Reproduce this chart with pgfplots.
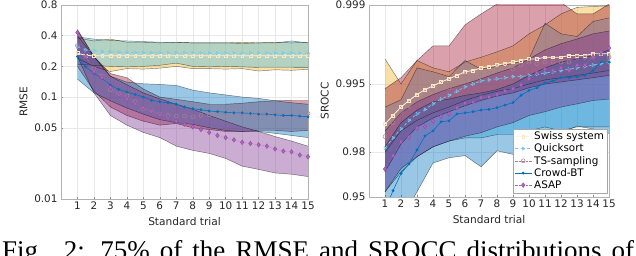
\documentclass[border=0pt]{standalone}
\usepackage{pgfplots}
\pgfplotsset{compat=1.18}
\usepgfplotslibrary{fillbetween}
\usepackage{pgfplotstable}
\usepackage{fontspec}
\setmainfont{DejaVu Sans}
\newfontfamily\capfont{Liberation Serif}

\definecolor{cswiss}{HTML}{EDB120}
\definecolor{cquick}{HTML}{4DBEEE}
\definecolor{cts}{HTML}{A2142F}
\definecolor{ccb}{HTML}{0072BD}
\definecolor{casap}{HTML}{7E2F8E}
\definecolor{tsmark}{RGB}{170,125,150}
\definecolor{asapmark}{RGB}{178,98,198}

% RMSE: mean curves
\pgfplotstableread{
x sw q ts cb as
1 0.27 0.31 0.32 0.25 0.43
1.5 0.256 0.29 0.25 0.198 0.25
2 0.254 0.285 0.19 0.171 0.178
2.5 0.254 0.28 0.16 0.152 0.156
3 0.254 0.278 0.118 0.131 0.124
3.5 0.254 0.275 0.107 0.119 0.105
4 0.254 0.274 0.103 0.112 0.095
4.5 0.254 0.273 0.090 0.106 0.086
5 0.254 0.272 0.077 0.100 0.079
5.5 0.254 0.272 0.073 0.093 0.072
6 0.254 0.272 0.068 0.090 0.067
6.5 0.254 0.271 0.066 0.088 0.062
7 0.254 0.271 0.065 0.085 0.058
7.5 0.254 0.271 0.065 0.080 0.054
8 0.254 0.271 0.064 0.077 0.051
8.5 0.254 0.270 0.066 0.075 0.048
9 0.254 0.270 0.067 0.073 0.045
9.5 0.254 0.270 0.067 0.072 0.042
10 0.254 0.270 0.067 0.071 0.040
10.5 0.254 0.270 0.068 0.070 0.038
11 0.254 0.270 0.068 0.070 0.036
11.5 0.254 0.270 0.068 0.069 0.035
12 0.254 0.270 0.068 0.068 0.034
12.5 0.254 0.269 0.068 0.068 0.033
13 0.254 0.269 0.068 0.067 0.031
13.5 0.254 0.269 0.069 0.066 0.0295
14 0.254 0.269 0.069 0.066 0.029
14.5 0.254 0.269 0.069 0.065 0.027
15 0.254 0.269 0.069 0.064 0.026
}\rmsemean

% RMSE: 75% bands
\pgfplotstableread{
x swlo swhi qlo qhi tslo tshi cblo cbhi aslo ashi
1 0.24 0.38 0.21 0.39 0.20 0.45 0.15 0.40 0.25 0.46
2 0.20 0.355 0.205 0.37 0.115 0.25 0.11 0.25 0.11 0.25
3 0.178 0.37 0.20 0.36 0.08 0.17 0.092 0.16 0.066 0.16
4 0.19 0.345 0.198 0.355 0.066 0.155 0.078 0.14 0.053 0.132
5 0.188 0.345 0.20 0.35 0.058 0.12 0.068 0.135 0.045 0.11
6 0.192 0.34 0.205 0.345 0.053 0.10 0.060 0.133 0.040 0.096
7 0.20 0.345 0.215 0.345 0.055 0.095 0.056 0.13 0.033 0.085
8 0.19 0.34 0.20 0.34 0.050 0.09 0.054 0.117 0.030 0.076
9 0.19 0.34 0.198 0.34 0.048 0.085 0.050 0.11 0.028 0.066
10 0.188 0.34 0.20 0.34 0.046 0.085 0.047 0.105 0.025 0.058
11 0.19 0.345 0.198 0.335 0.046 0.087 0.046 0.10 0.021 0.051
12 0.18 0.34 0.195 0.34 0.047 0.09 0.046 0.097 0.0195 0.046
13 0.185 0.345 0.195 0.34 0.047 0.092 0.044 0.092 0.018 0.041
14 0.183 0.34 0.195 0.355 0.046 0.093 0.042 0.088 0.0175 0.037
15 0.187 0.345 0.194 0.34 0.047 0.093 0.040 0.085 0.0166 0.033
}\rmseband

% SROCC: mean curves
\pgfplotstableread{
x sw q ts cb as
1 0.9887 0.9815 0.9854 0.935 0.9717
1.5 0.9905 0.985 0.989 0.956 0.9785
2 0.992 0.9875 0.9913 0.969 0.9838
2.5 0.993 0.9895 0.9922 0.9745 0.9852
3 0.9938 0.9908 0.9932 0.9808 0.9877
3.5 0.9944 0.9916 0.9938 0.9856 0.9881
4 0.9948 0.9925 0.9943 0.9870 0.9894
4.5 0.9952 0.9932 0.9946 0.9892 0.9903
5 0.9955 0.9937 0.9946 0.9894 0.9908
5.5 0.9958 0.9942 0.9953 0.9908 0.9919
6 0.9961 0.9947 0.9958 0.9910 0.9926
6.5 0.9962 0.995 0.9956 0.9912 0.9928
7 0.9964 0.9953 0.9959 0.9915 0.9934
7.5 0.9965 0.9954 0.996 0.9916 0.9935
8 0.9966 0.9955 0.9964 0.9919 0.9938
8.5 0.9967 0.9956 0.9965 0.9923 0.9942
9 0.9968 0.9957 0.9963 0.9927 0.9945
9.5 0.9969 0.9957 0.9966 0.9937 0.9949
10 0.997 0.9958 0.9968 0.9943 0.9955
10.5 0.997 0.9959 0.9967 0.9946 0.9960
11 0.9971 0.996 0.9968 0.9951 0.9963
11.5 0.9971 0.9961 0.9968 0.9953 0.9962
12 0.9971 0.9962 0.9968 0.9956 0.9964
12.5 0.9972 0.9963 0.9968 0.9956 0.9962
13 0.9972 0.9964 0.9971 0.9957 0.9966
13.5 0.9972 0.9965 0.9971 0.9958 0.9966
14 0.9973 0.9966 0.9971 0.9962 0.9971
14.5 0.9973 0.9967 0.9973 0.9968 0.9974
15 0.9973 0.9968 0.9971 0.9968 0.9976
}\sroccmean

% SROCC: 75% bands
\pgfplotstableread{
x swlo swhi qlo qhi tslo tshi cblo cbhi aslo ashi
1 0.980 0.9970 0.955 0.992 0.970 0.9945 0.90 0.982 0.955 0.987
2 0.987 0.9950 0.970 0.9931 0.983 0.9956 0.92 0.989 0.972 0.991
3 0.9895 0.9969 0.978 0.9964 0.988 0.9969 0.955 0.9915 0.978 0.9928
4 0.991 0.9964 0.982 0.9961 0.990 0.9977 0.975 0.9928 0.982 0.9938
5 0.992 0.9961 0.984 0.9957 0.9912 0.9977 0.9775 0.9932 0.984 0.9945
6 0.993 0.9968 0.985 0.9969 0.9922 0.9985 0.9785 0.9937 0.9855 0.995
7 0.9937 0.9971 0.985 0.9963 0.993 0.9988 0.973 0.994 0.9865 0.9955
8 0.9942 0.9974 0.986 0.9965 0.9936 0.99902 0.9805 0.9944 0.988 0.996
9 0.9945 0.9977 0.986 0.9967 0.994 0.99905 0.979 0.995 0.989 0.9964
10 0.995 0.9982 0.987 0.997 0.9946 0.99905 0.9843 0.9958 0.9905 0.997
11 0.9954 0.9985 0.988 0.99855 0.995 0.99905 0.987 0.9964 0.9912 0.9975
12 0.9956 0.9988 0.987 0.9982 0.9952 0.99905 0.9865 0.9968 0.992 0.9978
13 0.9958 0.99895 0.988 0.9981 0.9954 0.9988 0.9882 0.997 0.9925 0.998
14 0.996 0.99897 0.988 0.9986 0.9956 0.9988 0.9875 0.9972 0.993 0.9982
15 0.9962 0.99898 0.988 0.9987 0.9958 0.99902 0.9863 0.9975 0.9932 0.9983
}\sroccband

\pgfplotsset{
  base/.style={
    scale only axis,
    xmin=0, xmax=15, xtick={1,...,15},
    grid=major,
    major grid style={draw=black!9, line width=0.4pt},
    axis line style={draw=black!30, line width=0.5pt},
    tick style={draw=black!45, line width=0.4pt},
    major tick length=2.2pt,
    tick align=inside,
    xtick pos=bottom, ytick pos=left,
    ticklabel style={font=\fontsize{10.4}{12}\selectfont, text=black!85},
    label style={font=\fontsize{10.6}{12}\selectfont, text=black!85},
    /pgf/number format/assume math mode=true,
    xlabel={Standard trial},
    xticklabel style={yshift=1pt},
    xlabel style={yshift=-1.5pt},
  },
  bandedge/.style={draw=black, draw opacity=0.5, line width=0.45pt, forget plot},
  swissline/.style={color=cswiss!14, line width=0.8pt, mark=square, mark size=1.4pt, mark options={draw=cswiss!30, solid, line width=0.4pt}},
  quickline/.style={color=cquick!80, dashed, line width=0.6pt, mark=triangle, mark size=1.9pt, mark options={solid, rotate=-90, line width=0.5pt}},
  tsline/.style={color=tsmark, densely dotted, line width=0.4pt, mark=o, mark size=2pt, mark options={solid, line width=0.5pt}},
  cbline/.style={color=ccb, line width=0.6pt, mark=*, mark size=1.1pt, mark options={solid}},
  asapline/.style={color=asapmark, densely dotted, line width=0.4pt, mark=diamond*, mark size=2.3pt, mark options={solid, fill=asapmark, draw=casap!85}},
}

\newcommand{\band}[5]{%
  \addplot[bandedge, name path=#5a] table[x=x,y=#2]{#1};
  \addplot[bandedge, name path=#5b] table[x=x,y=#3]{#1};
  \addplot[fill=#4, fill opacity=0.4, draw=none, forget plot] fill between[of=#5a and #5b];
}

\begin{document}
\begin{tikzpicture}

\begin{axis}[base,
  at={(61pt,57pt)}, anchor=south west, width=247pt, height=194pt,
  ymode=log, ymin=0.01, ymax=0.8,
  ytick={0.01,0.05,0.1,0.2,0.4,0.8},
  yticklabels={0.01,0.05,0.1,0.2,0.4,0.8},
  yminorticks=false,
  ylabel={RMSE},
]
\band{\rmseband}{swlo}{swhi}{cswiss}{Lsw}
\band{\rmseband}{qlo}{qhi}{cquick}{Lq}
\band{\rmseband}{tslo}{tshi}{cts}{Lts}
\band{\rmseband}{cblo}{cbhi}{ccb}{Lcb}
\band{\rmseband}{aslo}{ashi}{casap}{Las}
\addplot[swissline] table[x=x,y=sw]{\rmsemean};
\addplot[quickline] table[x=x,y=q]{\rmsemean};
\addplot[tsline] table[x=x,y=ts]{\rmsemean};
\addplot[cbline] table[x=x,y=cb]{\rmsemean};
\addplot[asapline] table[x=x,y=as]{\rmsemean};
\end{axis}

\begin{axis}[base,
  at={(369pt,59pt)}, anchor=south west, width=240pt, height=192pt,
  y filter/.expression={-ln(1-y)},
  ymin=2.99573, ymax=6.90776,
  ytick={2.99573,3.91202,5.29832,6.90776},
  yticklabels={0.95,0.98,0.995,0.999},
  ylabel={SROCC},
  legend style={at={(rel axis cs:0.992,0.021)}, anchor=south east,
    font=\fontsize{10.4}{12}\selectfont, draw=black!35, fill=white,
    inner sep=1pt, row sep=-1.2pt},
  legend cell align=left,
]
\band{\sroccband}{swlo}{swhi}{cswiss}{Rsw}
\band{\sroccband}{qlo}{qhi}{cquick}{Rq}
\band{\sroccband}{tslo}{tshi}{cts}{Rts}
\band{\sroccband}{cblo}{cbhi}{ccb}{Rcb}
\band{\sroccband}{aslo}{ashi}{casap}{Ras}
\addplot[swissline] table[x=x,y=sw]{\sroccmean};
\addplot[quickline] table[x=x,y=q]{\sroccmean};
\addplot[tsline] table[x=x,y=ts]{\sroccmean};
\addplot[cbline] table[x=x,y=cb]{\sroccmean};
\addplot[asapline] table[x=x,y=as]{\sroccmean};
\legend{Swiss system, Quicksort, TS-sampling, Crowd-BT, ASAP}
\end{axis}

\node[anchor=base west, inner sep=0pt] at (2pt,-4pt)
  {\capfont\fontsize{27}{30}\selectfont\makebox[632pt][s]{Fig. 2: 75\% of the RMSE and SROCC distributions of}};
\pgfresetboundingbox
\path[use as bounding box] (0pt,0pt) rectangle (636pt,256pt);
\end{tikzpicture}
\end{document}
